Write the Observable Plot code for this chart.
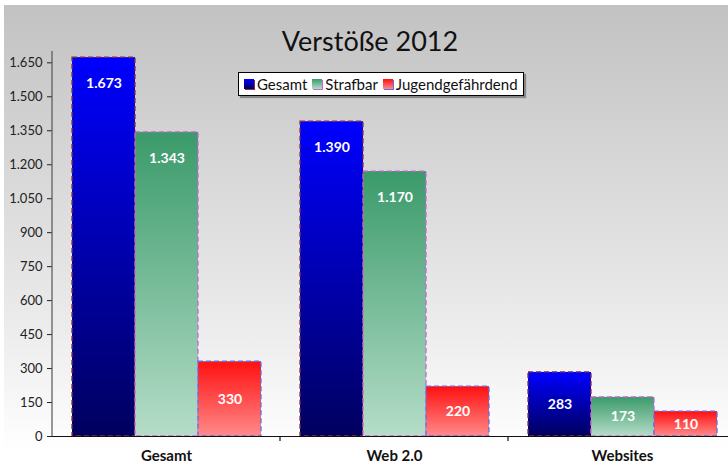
<!DOCTYPE html>
<html><head><meta charset="utf-8">
<script src="https://cdn.jsdelivr.net/npm/d3@7"></script>
<script src="https://cdn.jsdelivr.net/npm/@observablehq/plot@0.6"></script>
<style>
body{margin:0;background:#fff;font-family:Lato,"Open Sans",sans-serif;}
#wrap{position:relative;width:728px;height:465px;overflow:hidden;}
#bg{position:absolute;left:4px;top:5px;width:724px;height:460px;background:linear-gradient(#c2c2c2 0%,#ececec 70%,#ffffff 97%);}
#title{position:absolute;left:0;width:740px;top:24px;text-align:center;font-size:27px;font-weight:400;color:#111;}
#legend{position:absolute;left:238px;top:72px;height:22px;padding:0 5px;background:#fff;border:1px solid #000;box-shadow:2px 2px 1px #888;display:flex;align-items:center;font-size:15px;color:#111;}
#legend span.item{display:flex;align-items:center;margin-right:5px;}
#legend span.item:last-child{margin-right:0;}
#legend span.sw{display:inline-block;width:10px;height:10px;margin-right:3px;}
#chart{position:absolute;left:0;top:0;}
</style></head>
<body>
<div id="wrap"><div id="bg"></div><div id="chart"></div><div id="title"></div><div id="legend"></div></div>
<script>
const groups = ["Gesamt", "Web 2.0", "Websites"];
const series = ["Gesamt", "Strafbar", "Jugendgefährdend"];
const gesamtValues = [1673, 1390, 283];
const strafbarValues = [1343, 1170, 173];
const jugendValues = [330, 220, 110];
const yTicks = [0, 150, 300, 450, 600, 750, 900, 1050, 1200, 1350, 1500, 1650];
const titleText = "Verstöße 2012";

const seriesValues = [gesamtValues, strafbarValues, jugendValues];
const gradId = {"Gesamt": "gBlue", "Strafbar": "gGreen", "Jugendgefährdend": "gRed"};
const strokeCol = {"Gesamt": "#8a2f3a", "Strafbar": "#d35fe0", "Jugendgefährdend": "#5a70ee"};
const data = groups.flatMap((g, i) => series.map((s, j) => ({group: g, series: s, value: seriesValues[j][i]})));

const de = d3.formatLocale({decimal: ",", thousands: ".", grouping: [3], currency: ["", "€"]});
const fmt = de.format(",d");
const labelY = v => v > 1000 ? v - 115 : v / 2;

document.getElementById("title").textContent = titleText;
const leg = document.getElementById("legend");
const swBg = {"Gesamt": "linear-gradient(#0000ff,#00005e)", "Strafbar": "linear-gradient(#3a9a6a,#b5ddc8)", "Jugendgefährdend": "linear-gradient(#ff1010,#ff8a8a)"};
series.forEach(s => {
  const it = document.createElement("span"); it.className = "item";
  const sw = document.createElement("span"); sw.className = "sw";
  sw.style.background = swBg[s];
  sw.style.boxShadow = `1px 1px 0 ${strokeCol[s]}`;
  it.appendChild(sw);
  it.appendChild(document.createTextNode(s));
  leg.appendChild(it);
});

const barMarks = series.map(s => Plot.barY(data.filter(d => d.series === s), {
  fx: "group", x: "series", y: "value",
  fill: `url(#${gradId[s]})`, stroke: strokeCol[s], strokeWidth: 1.3, strokeDasharray: "5,3"}));

const chart = Plot.plot({
  width: 728,
  height: 465,
  marginLeft: 51,
  marginRight: 0,
  marginTop: 51,
  marginBottom: 29,
  style: {background: "transparent", fontFamily: "Lato, 'Open Sans', sans-serif", overflow: "visible"},
  fx: {domain: groups, range: [51, 737], padding: 0, label: null},
  x: {domain: series, paddingInner: 0, paddingOuter: 0.3, axis: null},
  y: {domain: [0, 1700], label: null},
  marks: [
    ...barMarks,
    Plot.ruleY([0], {stroke: "#111", strokeWidth: 1.2}),
    Plot.text(data, {fx: "group", x: "series", y: d => labelY(d.value), text: d => fmt(d.value),
      fill: "white", fontWeight: "bold", fontSize: 14}),
    Plot.axisY({ticks: yTicks, tickFormat: fmt, tickSize: 5, tickPadding: 5, fontSize: 13, color: "#222", label: null}),
    Plot.axisFx({anchor: "bottom", tickSize: 0, tickPadding: 14, fontSize: 15, fontWeight: "bold", label: null, color: "#111"})
  ]
});
document.getElementById("chart").appendChild(chart);

const svg = d3.select(chart);
const defs = svg.insert("defs", ":first-child");
const mk = (id, a, b) => {
  const g = defs.append("linearGradient").attr("id", id).attr("x1", 0).attr("y1", 0).attr("x2", 0).attr("y2", 1);
  g.append("stop").attr("offset", "0%").attr("stop-color", a);
  g.append("stop").attr("offset", "100%").attr("stop-color", b);
};
mk("gBlue", "#0000ff", "#00005e");
mk("gGreen", "#3a9a6a", "#b5ddc8");
mk("gRed", "#ff1010", "#ff8a8a");

const ys = chart.scale("y"), fxs = chart.scale("fx");
const y0 = ys.apply(0), yTop = ys.apply(1700);
const fxL = fxs.apply(groups[0]);
svg.append("line").attr("x1", fxL).attr("x2", fxL).attr("y1", yTop).attr("y2", y0).attr("stroke", "#555").attr("stroke-width", 1.2);
groups.slice(1).forEach(g => {
  const x = fxs.apply(g);
  svg.append("line").attr("x1", x).attr("x2", x).attr("y1", y0).attr("y2", y0 + 5).attr("stroke", "#111").attr("stroke-width", 1.2);
});
</script>
</body></html>
